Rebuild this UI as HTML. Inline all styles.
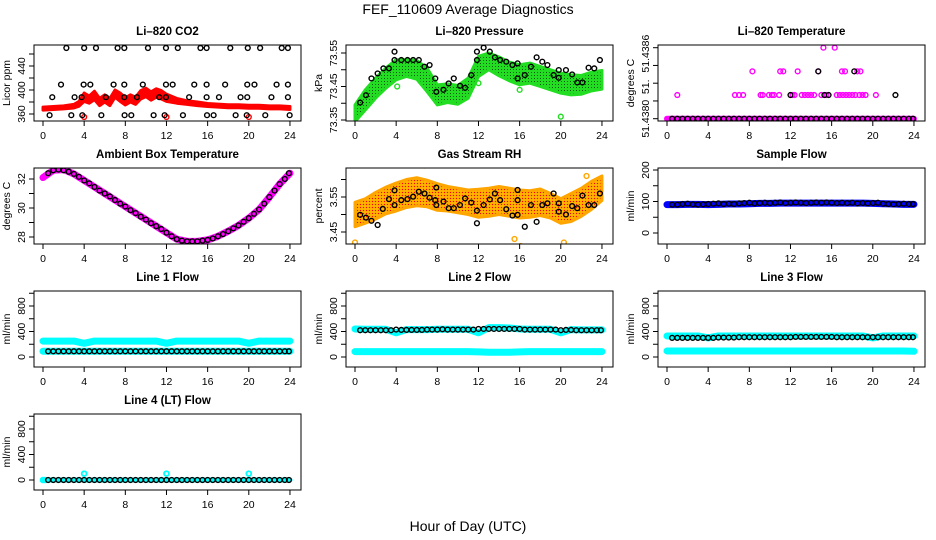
<!DOCTYPE html>
<html><head><meta charset="utf-8">
<style>
html,body{margin:0;padding:0;background:#fff;}
svg{display:block;font-family:"Liberation Sans",Arial,sans-serif;}
.tt{font-weight:bold;font-size:11.5px;text-anchor:middle;}
.tk{font-size:10.5px;text-anchor:middle;}
</style></head>
<body>
<svg id="chart" width="936" height="540" viewBox="0 0 936 540" xmlns="http://www.w3.org/2000/svg">
<defs>
<pattern id="pg" width="3" height="3" patternUnits="userSpaceOnUse"><rect width="3" height="3" fill="#22dd22"/><rect width="1" height="1" fill="#0a5a0a"/></pattern>
<pattern id="po" width="3" height="3" patternUnits="userSpaceOnUse"><rect width="3" height="3" fill="#ffa500"/><rect width="1" height="1" fill="#ff0000"/><rect x="1.5" y="1.5" width="1" height="1" fill="#ffdd00"/></pattern>
</defs>
<text x="468" y="14" font-size="14" text-anchor="middle">FEF_110609  Average Diagnostics</text>
<text x="468" y="531" font-size="14" text-anchor="middle">Hour of Day (UTC)</text>
</svg>
<script>
// ---------- data ----------
const HOUR_TICKS = [0,4,8,12,16,20,24];
const HOURS_BAND = [0,1,2,3,4,5,6,7,8,9,10,11,12,13,14,15,16,17,18,19,20,21,22,23,24];
const HALF_HOURS = [0.5,1,1.5,2,2.5,3,3.5,4,4.5,5,5.5,6,6.5,7,7.5,8,8.5,9,9.5,10,10.5,11,11.5,12,12.5,13,13.5,14,14.5,15,15.5,16,16.5,17,17.5,18,18.5,19,19.5,20,20.5,21,21.5,22,22.5,23,23.5,23.9];

// CO2
const CO2_RED_H = [0,1,2,3,3.5,4,4.5,5,5.5,6,6.5,7,7.5,8,8.5,9,9.5,10,10.5,11,11.5,12,13,14,15,16,17,18,19,20,21,22,23,24];
const CO2_RED_MID = [369,370,371,373,377,388,384,391,380,386,380,394,388,381,386,382,392,396,390,395,392,387,382,379,377,375,374,373,373,372,372,371,371,370];
const CO2_RED_HW  = [2.5,2.5,2.5,3,4,7,6,7,6,6,6,6,7,6,6,6,7,7,7,7,7,6,4,3,3,2.5,2.5,2.5,2.5,2.5,2.5,2.5,2.5,2.5];
const CO2_RED_OUT_H = [4,12,20];
const CO2_RED_OUT_V = [355,355,355];
const CO2_BLK_H = [2.27,4.0,5.15,7.25,7.9,10.2,11.95,13.1,15.3,15.9,18.2,19.9,21.1,23.2,23.8,
  1.75,3.95,4.6,6.86,7.9,9.7,11.95,12.6,14.7,15.9,17.7,19.85,20.55,22.7,23.8,
  0.9,3.07,3.75,6.11,7.9,9.13,11.3,11.95,14.2,15.9,17.1,19.2,19.85,22.2,23.8,
  0.64,2.75,3.82,5.67,7.93,8.58,10.75,11.82,13.6,15.94,16.58,18.72,19.8,21.6,23.97];
const CO2_BLK_V = [470,470,470,470,470,470,470,470,470,470,470,470,470,470,470,
  409,409,409,409,409,409,409,409,409,409,409,409,409,409,409,
  388,388,388,388,388,388,388,388,388,388,388,388,388,388,388,
  358,358,358,358,358,358,358,358,358,358,358,358,358,358,358];

// Pressure
const P_MID = [73.37,73.41,73.445,73.475,73.50,73.505,73.50,73.47,73.425,73.43,73.425,73.445,73.51,73.525,73.51,73.495,73.485,73.49,73.48,73.47,73.46,73.455,73.455,73.465,73.47];
const P_HW  = [0.025,0.03,0.03,0.03,0.03,0.025,0.028,0.035,0.03,0.028,0.028,0.03,0.03,0.025,0.028,0.028,0.03,0.03,0.03,0.03,0.03,0.03,0.028,0.028,0.028];
const P_GRN_OUT_H = [4.1,12.0,16.0,20.0];
const P_GRN_OUT_V = [73.45,73.46,73.44,73.36];
const P_BLK_H = [0.5,1.07,1.6,2.2,2.76,3.3,3.84,3.84,4.5,5.1,5.65,6.2,6.75,7.25,7.8,7.9,8.6,9.1,9.6,10.2,10.7,11.3,11.85,11.85,12.5,13.1,13.6,14.1,14.7,15.3,15.8,15.8,16.5,17.1,17.65,18.2,18.7,19.3,19.8,19.8,20.5,21.1,21.6,22.1,22.7,23.25,23.8];
const P_BLK_V = [73.402,73.424,73.474,73.489,73.504,73.504,73.554,73.529,73.529,73.529,73.529,73.529,73.509,73.514,73.474,73.434,73.44,73.459,73.474,73.452,73.446,73.484,73.554,73.529,73.566,73.554,73.537,73.529,73.524,73.514,73.519,73.474,73.484,73.509,73.537,73.524,73.514,73.484,73.499,73.476,73.499,73.486,73.462,73.462,73.506,73.504,73.529];

// Li-820 temperature
const T_MAG_H = [1.0,6.6,7.0,7.4,9.1,9.3,9.9,10.2,10.4,10.9,12.2,12.4,13.1,13.4,13.7,14.0,14.3,15.0,15.5,16.5,16.8,17.1,17.4,17.7,18.0,18.3,18.7,19.0,19.3,20.3,
  8.3,11.0,11.3,12.7,14.7,17.0,17.3,18.5,18.8,15.2,16.3];
const T_MAG_V = [51.4382,51.4382,51.4382,51.4382,51.4382,51.4382,51.4382,51.4382,51.4382,51.4382,51.4382,51.4382,51.4382,51.4382,51.4382,51.4382,51.4382,51.4382,51.4382,51.4382,51.4382,51.4382,51.4382,51.4382,51.4382,51.4382,51.4382,51.4382,51.4382,51.4382,
  51.4384,51.4384,51.4384,51.4384,51.4384,51.4384,51.4384,51.4384,51.4384,51.4386,51.4386];
const T_BLK_EXTRA_H = [12.0,15.3,15.7,22.2,14.7,18.2];
const T_BLK_EXTRA_V = [51.4382,51.4382,51.4382,51.4382,51.4384,51.4384];
const T_BASE_V = 51.4380;

// Ambient
const AMB_BAND = [32.1,32.6,32.65,32.35,31.9,31.45,31.0,30.55,30.1,29.65,29.2,28.75,28.3,27.85,27.7,27.7,27.8,28.05,28.4,28.8,29.3,29.9,30.75,31.65,32.4];
const AMB_BLK = [32.4,32.6,32.65,32.6,32.5,32.35,32.15,31.9,31.7,31.45,31.2,31.0,30.8,30.55,30.3,30.1,29.85,29.65,29.4,29.2,28.95,28.75,28.55,28.3,28.05,27.85,27.75,27.7,27.7,27.7,27.75,27.8,27.9,28.05,28.2,28.4,28.6,28.8,29.05,29.3,29.6,29.9,30.3,30.75,31.2,31.65,32.0,32.4];

// RH
const RH_MID = [3.50,3.51,3.525,3.54,3.55,3.56,3.565,3.56,3.55,3.545,3.54,3.535,3.532,3.535,3.54,3.535,3.53,3.53,3.535,3.525,3.51,3.52,3.535,3.555,3.575];
const RH_HW  = [0.035,0.035,0.038,0.038,0.04,0.04,0.04,0.038,0.038,0.035,0.035,0.035,0.04,0.04,0.04,0.04,0.04,0.038,0.038,0.035,0.035,0.04,0.04,0.04,0.035];
const RH_OUT_H = [0,6.75,15.5,16.1,20.3,22.5];
const RH_OUT_V = [3.42,3.64,3.43,3.41,3.42,3.61];
const RH_BLK_H = [0.5,1.07,1.6,2.2,2.7,3.3,3.84,3.84,4.5,5.1,5.65,6.2,6.75,7.25,7.8,7.9,7.9,8.6,9.1,9.6,10.2,10.7,11.3,11.85,11.85,12.5,13.1,13.6,14.1,14.7,15.3,15.8,15.8,15.8,16.5,17.1,17.65,18.2,18.7,19.3,19.8,19.8,20.5,21.1,21.6,22.1,22.7,23.25,23.8];
const RH_BLK_V = [3.499,3.491,3.482,3.470,3.516,3.544,3.569,3.527,3.541,3.544,3.551,3.565,3.560,3.548,3.541,3.577,3.527,3.537,3.518,3.518,3.527,3.546,3.534,3.511,3.475,3.527,3.543,3.560,3.541,3.515,3.497,3.570,3.541,3.499,3.465,3.527,3.479,3.527,3.532,3.560,3.532,3.508,3.500,3.524,3.518,3.554,3.527,3.527,3.560];

// Sample flow
const SF_BAND = [90,90,91,91,90,91,92,92,93,94,94,95,95,95,95,95,95,95,95,95,94,93,92,91,91];
const SF_BLK = [90,90,92,93,91,90,91,92,93,94,92,93,92,94,95,96,94,95,96,95,96,97,95,96,97,96,95,96,97,96,97,96,95,96,95,96,94,95,94,95,96,93,92,91,92,93,92,92];

// Line flows
const L1_CYAN_HI = [250,250,250,250,215,250,250,250,250,250,250,250,215,250,250,250,250,250,250,250,215,250,250,250,250];
const L1_CYAN_LO = [90,90,90,90,90,90,90,90,90,90,90,90,90,90,90,90,90,90,90,90,90,90,90,90,90];
const L1_BLK = [90,90,90,90,90,90,90,90,90,90,90,90,90,90,90,90,90,90,90,90,90,90,90,90,90,90,90,90,90,90,90,90,90,90,90,90,90,90,90,90,90,90,90,90,90,90,90,90];
const L2_CYAN_HI = [440,435,435,435,380,430,430,430,435,435,435,435,380,460,460,455,440,435,435,435,380,430,425,425,425];
const L2_CYAN_LO = [85,85,85,85,85,85,85,85,85,85,85,85,80,75,75,75,80,85,85,85,85,85,85,85,85];
const L2_BLK = [420,420,420,420,420,420,420,430,425,425,425,425,425,430,430,430,435,430,430,430,430,430,430,440,440,440,440,440,440,440,440,440,430,430,430,430,430,430,430,420,425,425,420,420,420,420,420,420];
const L3_CYAN_HI = [330,330,330,330,300,330,330,330,330,330,330,330,330,330,330,330,330,330,330,330,300,330,330,330,330];
const L3_CYAN_LO = [95,95,95,95,95,95,95,95,95,95,95,95,95,95,95,95,95,95,95,95,95,95,95,95,90];
const L3_BLK = [300,300,300,300,300,300,300,300,300,305,305,305,305,310,310,310,310,310,310,310,310,310,310,310,315,315,315,315,315,315,315,315,310,310,310,310,310,310,310,310,310,310,310,310,310,310,310,310];
const L4_CYAN = [0,0,0,0,0,0,0,0,0,0,0,0,0,0,0,0,0,0,0,0,0,0,0,0,0];
const L4_CYAN_OUT_H = [0,0.2,4,12,20];
const L4_CYAN_OUT_V = [0,0,100,100,100];
const L4_BLK = [0,0,0,0,0,0,0,0,0,0,0,0,0,0,0,0,0,0,0,0,0,0,0,0,0,0,0,0,0,0,0,0,0,0,0,0,0,0,0,0,0,0,0,0,0,0,0,0];

// ---------- drawing ----------
const svg = document.getElementById('chart');
const NS = 'http://www.w3.org/2000/svg';
function el(tag, attrs, parent){
  const e = document.createElementNS(NS, tag);
  for (const k in attrs) e.setAttribute(k, attrs[k]);
  (parent || svg).appendChild(e);
  return e;
}
const COLX = [0, 312, 624];
const ROWY = [45, 168, 291, 414];

function panel(key, title, ylab, col, row, v0, p0, v1, p1, ticks, labels){
  const g = el('g', {});
  
  
  const L = 34 + COLX[col], R = 301 + COLX[col], T = ROWY[row], B = T + 76;
  const x = h => L + 9 + h * 10.29;
  const y = v => T + p0 + (v - v0) * (p1 - p0) / (v1 - v0);
  const clip = el('clipPath', {id: 'c-' + key}, g);
  el('rect', {x: L, y: T, width: R - L, height: B - T}, clip);
  const t = el('text', {x: (L + R) / 2, y: T - 10, class: 'tt'}, g);
  t.textContent = title;
  
  
  const yl = el('text', {x: L - 24, y: (T + B) / 2, class: 'tk', transform: 'rotate(-90 ' + (L - 24) + ' ' + ((T + B) / 2) + ')'}, g);
  yl.textContent = ylab;
  
  
  const xa = el('g', {stroke: '#000', 'stroke-width': 1}, g);
  
  
  el('line', {x1: x(0), x2: x(24), y1: B, y2: B}, xa);
  HOUR_TICKS.forEach(h => {
    el('line', {x1: x(h), x2: x(h), y1: B, y2: B + 5}, xa);
    const tl = el('text', {x: x(h), y: B + 18, class: 'tk', stroke: 'none'}, g);
    tl.textContent = h;
    
    
  });
  const ya = el('g', {stroke: '#000', 'stroke-width': 1}, g);
  
  
  el('line', {x1: L, x2: L, y1: y(ticks[0]), y2: y(ticks[ticks.length - 1])}, ya);
  ticks.forEach(v => el('line', {x1: L - 5, x2: L, y1: y(v), y2: y(v)}, ya));
  labels.forEach(lb => {
    const yy = y(lb[0]);
    const tl = el('text', {x: L - 9, y: yy, class: 'tk', transform: 'rotate(-90 ' + (L - 9) + ' ' + yy + ')'}, g);
    tl.textContent = lb[1];
    
    
  });
  const plot = el('g', {'clip-path': 'url(#c-' + key + ')'}, g);
  
  
  const box = el('rect', {x: L, y: T, width: R - L, height: B - T, fill: 'none', stroke: '#000', 'stroke-width': 1}, g);
  
  
  return {x, y, plot};
}
function pts(p, hs, vs, color, name, sw){
  const g = el('g', {fill: 'none', stroke: color, 'stroke-width': sw || 1.4}, p.plot);
  
  
  hs.forEach((h, i) => {
    const c = el('circle', {cx: p.x(h), cy: p.y(vs[i]), r: 2.4}, g);
    
    
  });
}
function band(p, hs, mid, hw, fill, edge, name){
  let up = [], dn = [];
  hs.forEach((h, i) => { up.push(p.x(h) + ',' + p.y(mid[i] + hw[i])); dn.unshift(p.x(h) + ',' + p.y(mid[i] - hw[i])); });
  const poly = el('polygon', {points: up.concat(dn).join(' '), fill: fill, stroke: edge, 'stroke-width': 3, 'stroke-linejoin': 'round'}, p.plot);
  
  
}
function thick(p, hs, vs, color, w, name){
  const pl = el('polyline', {points: hs.map((h, i) => p.x(h) + ',' + p.y(vs[i])).join(' '), fill: 'none', stroke: color, 'stroke-width': w, 'stroke-linecap': 'round', 'stroke-linejoin': 'round'}, p.plot);
  
  
}

// Panel 1: CO2
let p = panel('co2', 'Li\u2013820 CO2', 'Licor ppm', 0, 0, 360, 69, 440, 21, [360,380,400,420,440,460], [[360,'360'],[400,'400'],[440,'440']]);
band(p, CO2_RED_H, CO2_RED_MID, CO2_RED_HW, '#ff0000', '#ff0000', 'co2-red-series');
pts(p, CO2_RED_OUT_H, CO2_RED_OUT_V, '#ff0000', 'co2-red-outliers');
pts(p, CO2_BLK_H, CO2_BLK_V, '#000', 'co2-black-series');

// Panel 2: Pressure
p = panel('pressure', 'Li\u2013820 Pressure', 'kPa', 1, 0, 73.55, 8, 73.35, 75, [73.35,73.40,73.45,73.50,73.55], [[73.35,'73.35'],[73.45,'73.45'],[73.55,'73.55']]);
band(p, HOURS_BAND, P_MID, P_HW, 'url(#pg)', '#22dd22', 'pressure-green-series');
pts(p, P_GRN_OUT_H, P_GRN_OUT_V, '#22dd22', 'pressure-green-outliers');
pts(p, P_BLK_H, P_BLK_V, '#000', 'pressure-black-series');

// Panel 3: Li-820 Temperature
p = panel('li820-temp', 'Li\u2013820 Temperature', 'degrees C', 2, 0, 51.4380, 73.7, 51.4386, 2.7, [51.4380,51.43815,51.4383,51.43845,51.4386], [[51.4380,'51.4380'],[51.43827,'51.'],[51.43855,'51.4386']]);
thick(p, [0,24], [T_BASE_V,T_BASE_V], '#ff00ff', 6, 'li820-temp-magenta-base');
pts(p, T_MAG_H, T_MAG_V, '#ff00ff', 'li820-temp-magenta-series');
pts(p, HALF_HOURS, HALF_HOURS.map(() => T_BASE_V), '#000', 'li820-temp-black-series');
pts(p, T_BLK_EXTRA_H, T_BLK_EXTRA_V, '#000', 'li820-temp-black-extra');

// Panel 4: Ambient
p = panel('ambient', 'Ambient Box Temperature', 'degrees C', 0, 1, 32, 11, 28, 69, [28,29,30,31,32], [[28,'28'],[30,'30'],[32,'32']]);
thick(p, HOURS_BAND, AMB_BAND, '#ff00ff', 7, 'ambient-magenta-series');
pts(p, HALF_HOURS, AMB_BLK, '#000', 'ambient-black-series');

// Panel 5: RH
p = panel('rh', 'Gas Stream RH', 'percent', 1, 1, 3.55, 29, 3.45, 64, [3.45,3.50,3.55,3.60], [[3.45,'3.45'],[3.55,'3.55']]);
band(p, HOURS_BAND, RH_MID, RH_HW, 'url(#po)', '#ffa500', 'rh-orange-series');
pts(p, RH_OUT_H, RH_OUT_V, '#ffa500', 'rh-orange-outliers');
pts(p, RH_BLK_H, RH_BLK_V, '#000', 'rh-black-series');

// Panel 6: Sample Flow
p = panel('sample-flow', 'Sample Flow', 'ml/min', 2, 1, 0, 65, 200, 2, [0,50,100,150,200], [[0,'0'],[100,'100'],[200,'200']]);
thick(p, HOURS_BAND, SF_BAND, '#0000ff', 7, 'sample-flow-blue-series');
pts(p, HALF_HOURS, SF_BLK, '#000', 'sample-flow-black-series');

const FT = [0,200,400,600,800,1000];
const FL = [[0,'0'],[400,'400'],[800,'800']];
p = panel('line1', 'Line 1 Flow', 'ml/min', 0, 2, 0, 66, 800, 15, FT, FL);
thick(p, HOURS_BAND, L1_CYAN_HI, '#00ffff', 7, 'line1-cyan-high');
thick(p, HOURS_BAND, L1_CYAN_LO, '#00ffff', 7, 'line1-cyan-low');
pts(p, HALF_HOURS, L1_BLK, '#000', 'line1-black-series');
p = panel('line2', 'Line 2 Flow', 'ml/min', 1, 2, 0, 66, 800, 15, FT, FL);
thick(p, HOURS_BAND, L2_CYAN_HI, '#00ffff', 7, 'line2-cyan-high');
thick(p, HOURS_BAND, L2_CYAN_LO, '#00ffff', 7, 'line2-cyan-low');
pts(p, HALF_HOURS, L2_BLK, '#000', 'line2-black-series');
p = panel('line3', 'Line 3 Flow', 'ml/min', 2, 2, 0, 66, 800, 15, FT, FL);
thick(p, HOURS_BAND, L3_CYAN_HI, '#00ffff', 7, 'line3-cyan-high');
thick(p, HOURS_BAND, L3_CYAN_LO, '#00ffff', 7, 'line3-cyan-low');
pts(p, HALF_HOURS, L3_BLK, '#000', 'line3-black-series');
p = panel('line4', 'Line 4 (LT) Flow', 'ml/min', 0, 3, 0, 66, 800, 15, FT, FL);
thick(p, HOURS_BAND, L4_CYAN, '#00ffff', 5, 'line4-cyan-series');
pts(p, L4_CYAN_OUT_H, L4_CYAN_OUT_V, '#00ffff', 'line4-cyan-outliers', 1.8);
pts(p, HALF_HOURS, L4_BLK, '#000', 'line4-black-series');
</script>
</body></html>
